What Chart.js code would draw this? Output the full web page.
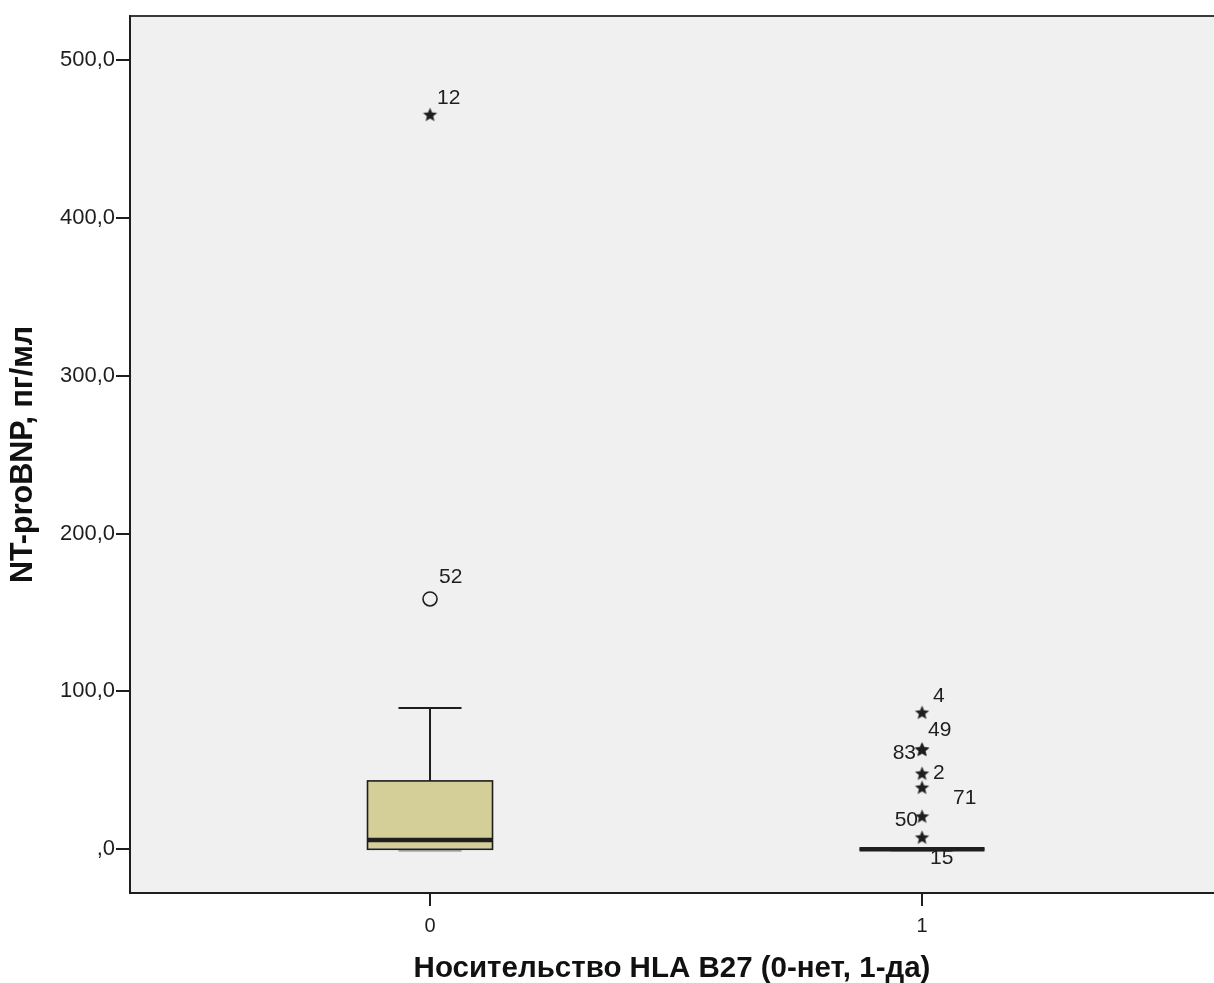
<!DOCTYPE html>
<html>
<head>
<meta charset="utf-8">
<script src="https://cdn.jsdelivr.net/npm/chart.js@4/dist/chart.umd.min.js"></script>
<style>
  html, body { margin: 0; padding: 0; background: #ffffff; overflow: hidden; }
  #c { display: block; }
</style>
</head>
<body>
<canvas id="c" width="1214" height="983"></canvas>
<script>
// Groups on the x axis
const groups = [0, 1];
const groupLabels = ['0', '1'];

// Five-number summary per group (пг/мл)
const whiskerLow  = [0, 0];
const q1          = [0, 0];
const median      = [5.9, 0];
const q3          = [43.3, 0];
const whiskerHigh = [89.5, 0];

// Extreme values (stars) with case numbers
const extremeGroup = [0, 1, 1, 1, 1, 1, 1, 1];
const extremeValue = [465.1, 86.3, 62.9, 62.9, 47.7, 38.8, 20.5, 7.2];
const extremeCase  = ['12', '4', '49', '83', '2', '71', '50', '15'];

// Outliers (circles) with case numbers
const outlierGroup = [0];
const outlierValue = [158.6];
const outlierCase  = ['52'];

// Y axis ticks
const yTicks = [0, 100, 200, 300, 400, 500];

// Case-label placement next to each marker: [dx, dy, align]
const extremeLabelPos = [
  [7, -17, 'left'], [11, -17, 'left'], [6, -20, 'left'], [-6, 3, 'right'],
  [11, -1, 'left'], [31, 10, 'left'], [-4, 3, 'right'], [8, 20, 'left']
];
const outlierLabelPos = [[9, -22, 'left']];

const INK = '#1e1e1e';
const FONT = "'Liberation Sans', Arial, sans-serif";

// Star marker used for extreme values
function makeStar(outer, inner) {
  const size = Math.ceil(outer * 2 + 2);
  const cv = document.createElement('canvas');
  cv.width = size; cv.height = size;
  const g = cv.getContext('2d');
  const c = size / 2;
  g.beginPath();
  for (let k = 0; k < 10; k++) {
    const r = k % 2 === 0 ? outer : inner;
    const a = -Math.PI / 2 + k * Math.PI / 5;
    const px = c + r * Math.cos(a), py = c + r * Math.sin(a);
    k === 0 ? g.moveTo(px, py) : g.lineTo(px, py);
  }
  g.closePath();
  g.fillStyle = INK;
  g.fill();
  return cv;
}
const starImg = makeStar(7.5, 3.3);

function fmtTick(v) {
  return v === 0 ? ',0' : v.toFixed(1).replace('.', ',');
}

// Plot background and top frame line
const frame = {
  id: 'frame',
  beforeDraw(chart) {
    const { ctx, chartArea: a } = chart;
    ctx.save();
    ctx.fillStyle = '#f0f0f0';
    ctx.fillRect(a.left, a.top, a.right - a.left, a.bottom - a.top);
    ctx.strokeStyle = '#3a3a3a';
    ctx.lineWidth = 2;
    ctx.beginPath();
    ctx.moveTo(a.left, a.top);
    ctx.lineTo(a.right, a.top);
    ctx.stroke();
    ctx.restore();
  }
};

// Whiskers, caps and medians drawn on top of the box bars
const boxParts = {
  id: 'boxParts',
  afterDatasetsDraw(chart) {
    const { ctx, scales: { x, y } } = chart;
    const half = 62.5, capHalf = 31.5;
    ctx.save();
    ctx.strokeStyle = INK;
    groups.forEach((g, i) => {
      const cx = x.getPixelForValue(g);
      const yLo = y.getPixelForValue(whiskerLow[i]);
      const yQ1 = y.getPixelForValue(q1[i]);
      const yQ3 = y.getPixelForValue(q3[i]);
      const yHi = y.getPixelForValue(whiskerHigh[i]);
      const yMed = y.getPixelForValue(median[i]);
      ctx.lineWidth = 2;
      ctx.beginPath();
      if (yHi < yQ3) {
        ctx.moveTo(cx, yQ3); ctx.lineTo(cx, yHi);
        ctx.moveTo(cx - capHalf, yHi); ctx.lineTo(cx + capHalf, yHi);
      }
      if (yLo > yQ1) {
        ctx.moveTo(cx, yQ1); ctx.lineTo(cx, yLo);
      }
      ctx.stroke();
      // lower cap, partly hidden under the box edge
      ctx.globalAlpha = 0.35;
      ctx.beginPath();
      ctx.moveTo(cx - capHalf, yLo + 1.5); ctx.lineTo(cx + capHalf, yLo + 1.5);
      ctx.stroke();
      ctx.globalAlpha = 1;
      // box outline (also visible when the box collapses to a line)
      ctx.lineWidth = 1.6;
      ctx.strokeRect(cx - half, yQ3, half * 2, yQ1 - yQ3);
      // median
      ctx.lineWidth = 4.5;
      ctx.beginPath();
      ctx.moveTo(cx - half, yMed); ctx.lineTo(cx + half, yMed);
      ctx.stroke();
    });
    ctx.restore();
  }
};

// Case numbers beside the outside values
const caseLabels = {
  id: 'caseLabels',
  afterDraw(chart) {
    const { ctx } = chart;
    ctx.save();
    ctx.fillStyle = INK;
    ctx.font = '21px ' + FONT;
    ctx.textBaseline = 'middle';
    const put = (dsIndex, texts, pos) => {
      chart.getDatasetMeta(dsIndex).data.forEach((pt, i) => {
        const [dx, dy, al] = pos[i];
        ctx.textAlign = al;
        ctx.fillText(texts[i], pt.x + dx, pt.y + dy);
      });
    };
    put(1, extremeCase, extremeLabelPos);
    put(2, outlierCase, outlierLabelPos);
    ctx.restore();
  }
};

new Chart(document.getElementById('c'), {
  type: 'bar',
  data: {
    datasets: [
      {
        type: 'bar',
        data: groups.map((g, i) => ({ x: g, y: [q1[i], q3[i]] })),
        backgroundColor: '#d4cf98',
        borderWidth: 0,
        barThickness: 125,
        order: 3
      },
      {
        type: 'scatter',
        data: extremeGroup.map((g, i) => ({ x: g, y: extremeValue[i] })),
        pointStyle: starImg,
        pointRadius: 8,
        order: 1
      },
      {
        type: 'scatter',
        data: outlierGroup.map((g, i) => ({ x: g, y: outlierValue[i] })),
        pointStyle: 'circle',
        pointRadius: 7,
        borderColor: INK,
        borderWidth: 1.6,
        backgroundColor: 'rgba(0,0,0,0)',
        order: 2
      }
    ]
  },
  options: {
    responsive: false,
    maintainAspectRatio: false,
    animation: false,
    events: [],
    layout: { autoPadding: false, padding: { top: 16, left: 0, right: 0, bottom: 0 } },
    plugins: { legend: { display: false }, tooltip: { enabled: false } },
    scales: {
      x: {
        type: 'linear',
        offset: false,
        min: -0.6098,
        max: 1.5935,
        afterFit(s) { s.height = 90; s.paddingLeft = 0; s.paddingRight = 0; },
        afterBuildTicks(s) { s.ticks = groups.map(v => ({ value: v })); },
        ticks: {
          callback: v => groupLabels[groups.indexOf(v)],
          font: { family: FONT, size: 20 },
          color: INK,
          padding: 8,
          maxRotation: 0
        },
        grid: { offset: false, drawOnChartArea: false, tickLength: 13, color: INK, lineWidth: 2 },
        border: { color: INK, width: 2 },
        title: {
          display: true,
          text: 'Носительство HLA B27 (0-нет, 1-да)',
          font: { family: FONT, size: 29.5, weight: 'bold' },
          color: '#111',
          padding: { top: 0, bottom: -4 }
        }
      },
      y: {
        min: -27.7,
        max: 527.9,
        afterFit(s) { s.width = 130; s.paddingTop = 0; s.paddingBottom = 0; },
        afterBuildTicks(s) { s.ticks = yTicks.map(v => ({ value: v })); },
        ticks: {
          callback: v => fmtTick(v),
          font: { family: FONT, size: 22 },
          color: INK,
          padding: 1
        },
        grid: { drawOnChartArea: false, tickLength: 14, color: INK, lineWidth: 2 },
        border: { color: INK, width: 2 },
        title: {
          display: true,
          text: 'NT-proBNP, пг/мл',
          font: { family: FONT, size: 30.5, weight: 'bold' },
          color: '#111',
          padding: { top: 5, bottom: 0 }
        }
      }
    }
  },
  plugins: [frame, boxParts, caseLabels]
});
</script>
</body>
</html>
